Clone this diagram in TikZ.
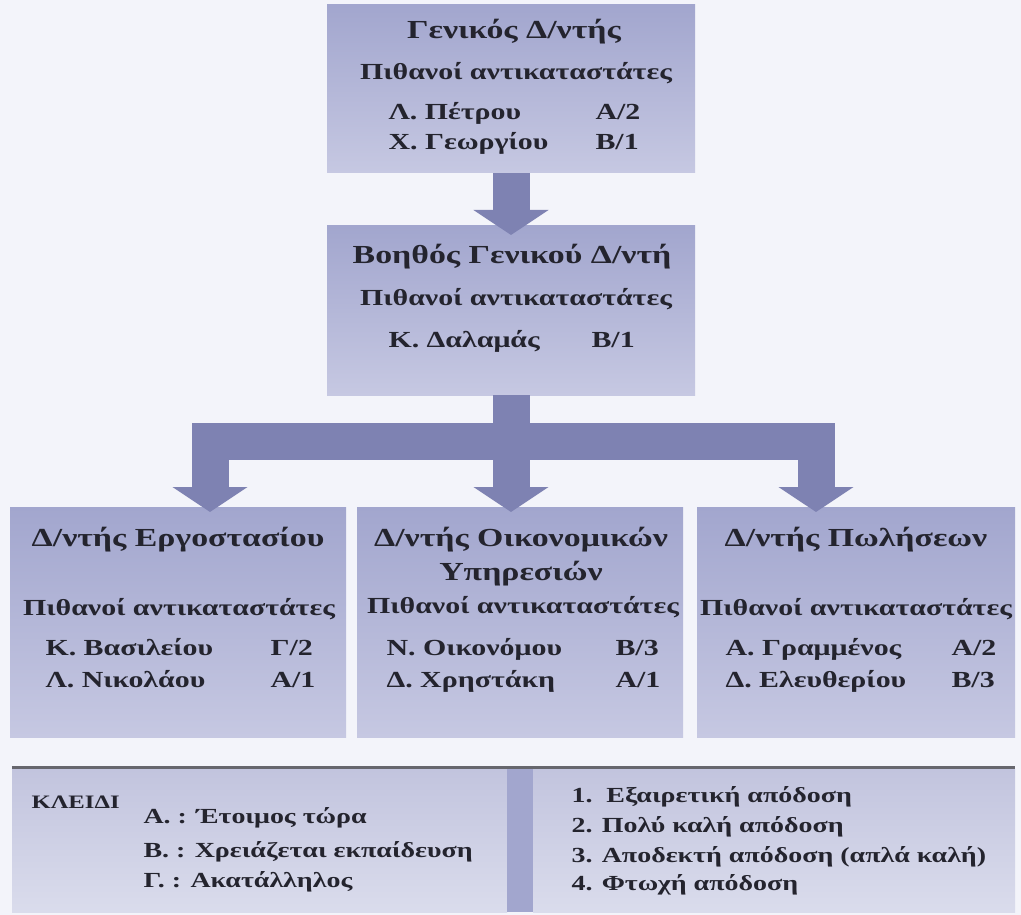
\documentclass[tikz,border=0pt]{standalone}
\usepackage{fontspec}
\setmainfont{Liberation Serif}[FakeStretch=1.3]
\usetikzlibrary{arrows.meta}

\definecolor{paper}{RGB}{243,244,250}
\definecolor{boxtop}{RGB}{162,166,206}
\definecolor{boxbot}{RGB}{198,200,226}
\definecolor{keytop}{RGB}{194,196,222}
\definecolor{keybot}{RGB}{218,220,236}
\definecolor{arrowcol}{RGB}{126,130,178}
\definecolor{inkcol}{RGB}{36,36,46}

\tikzset{
  box/.style = {rectangle, top color=boxtop, bottom color=boxbot, inner sep=0pt},
  keybox/.style = {rectangle, top color=keytop, bottom color=keybot, inner sep=0pt},
  title/.style = {font=\bfseries\fontsize{26}{30}\selectfont, text=inkcol, anchor=base},
  sub/.style = {font=\bfseries\fontsize{23}{27}\selectfont, text=inkcol, anchor=base},
  row/.style = {font=\bfseries\fontsize{23}{27}\selectfont, text=inkcol, anchor=base west},
  keytxt/.style = {font=\bfseries\fontsize{21.5}{25}\selectfont, text=inkcol, anchor=base west},
  fatarrow/.style = {draw=arrowcol, line width=37pt, -{Triangle[width=74pt,length=25pt]}}
}

\begin{document}
\begin{tikzpicture}[x=1pt, y=1pt]
\useasboundingbox (0,0) rectangle (1021,-915);
\fill [paper] (0,0) rectangle (1021,-915);

% boxes
\node [box, minimum width=368pt, minimum height=168pt] (gen) at (511,-89) {};
\node [box, minimum width=368pt, minimum height=169pt] (boh) at (511,-310.5) {};
\node [box, minimum width=336pt, minimum height=230pt] (erg) at (178,-622) {};
\node [box, minimum width=326pt, minimum height=230pt] (oik) at (520,-622) {};
\node [box, minimum width=318pt, minimum height=230pt] (pol) at (856,-622) {};

% arrows
\coordinate (bohin) at (511,-235);
\coordinate (fork) at (511,-441);
\coordinate (ergin) at (210,-512);
\coordinate (oikin) at (511,-512);
\coordinate (polin) at (816,-512);
\draw [fatarrow] (gen.south) -- (bohin);
\draw [fatarrow] (boh.south) -- (fork) -| (ergin);
\draw [fatarrow] (boh.south) -- (fork) -| (polin);
\draw [fatarrow] (boh.south) -- (oikin);

% top
\node [title] (genT) at (514,-39) {Γενικός Δ/ντής};
\node [sub] (genS) at (516,-80) {Πιθανοί αντικαταστάτες};
\node [row] (genA) at (385,-120) {Λ. Πέτρου};
\node [row] (genAc) at (592,-120) {Α/2};
\node [row] (genB) at (385,-150) {Χ. Γεωργίου};
\node [row] (genBc) at (592,-150) {Β/1};

% second
\node [title] (bohT) at (512,-263) {Βοηθός Γενικού Δ/ντή};
\node [sub] (bohS) at (516,-305) {Πιθανοί αντικαταστάτες};
\node [row] (bohA) at (385,-347) {Κ. Δαλαμάς};
\node [row] (bohAc) at (588,-347) {Β/1};

% third row
\node [title] (ergT) at (178,-546) {Δ/ντής Εργοστασίου};
\node [sub] (ergS) at (179,-615) {Πιθανοί αντικαταστάτες};
\node [row] (ergA) at (42,-655) {Κ. Βασιλείου};
\node [row] (ergAc) at (267,-655) {Γ/2};
\node [row] (ergB) at (42,-687) {Λ. Νικολάου};
\node [row] (ergBc) at (267,-687) {Α/1};

\node [title] (oikT) at (521,-546) {Δ/ντής Οικονομικών};
\node [title] (oikT2) at (521,-580) {Υπηρεσιών};
\node [sub] (oikS) at (523,-613) {Πιθανοί αντικαταστάτες};
\node [row] (oikA) at (383,-655) {Ν. Οικονόμου};
\node [row] (oikAc) at (612,-655) {Β/3};
\node [row] (oikB) at (383,-687) {Δ. Χρηστάκη};
\node [row] (oikBc) at (612,-687) {Α/1};

\node [title] (polT) at (856,-546) {Δ/ντής Πωλήσεων};
\node [sub] (polS) at (856,-615) {Πιθανοί αντικαταστάτες};
\node [row] (polA) at (722,-655) {Α. Γραμμένος};
\node [row] (polAc) at (948,-655) {Α/2};
\node [row] (polB) at (722,-687) {Δ. Ελευθερίου};
\node [row] (polBc) at (948,-687) {Β/3};

% key
\node [keybox, minimum width=495pt, minimum height=143pt] (keyL) at (259.5,-840.5) {};
\node [keybox, minimum width=482pt, minimum height=143pt] (keyR) at (774,-840.5) {};
\fill [boxtop] (keyL.north east) rectangle (keyR.south west);
\draw [line width=2.5pt, inkcol!70] ([yshift=1.5pt]keyL.north west) -- ([yshift=1.5pt]keyR.north east);

\node [keytxt, font=\bfseries\fontsize{19}{23}\selectfont] (keyH) at (28,-808) {ΚΛΕΙΔΙ};
\node [keytxt] (keyA) at (140,-823) {Α. : Έτοιμος τώρα};
\node [keytxt] (keyB) at (140,-857) {Β. : Χρειάζεται εκπαίδευση};
\node [keytxt] (keyC) at (140,-887) {Γ. : Ακατάλληλος};
\node [keytxt] (key1) at (568,-802) {1.\ \ Εξαιρετική απόδοση};
\node [keytxt] (key2) at (568,-832) {2. Πολύ καλή απόδοση};
\node [keytxt] (key3) at (568,-862) {3. Αποδεκτή απόδοση (απλά καλή)};
\node [keytxt] (key4) at (568,-890) {4. Φτωχή απόδοση};
\end{tikzpicture}
\end{document}
